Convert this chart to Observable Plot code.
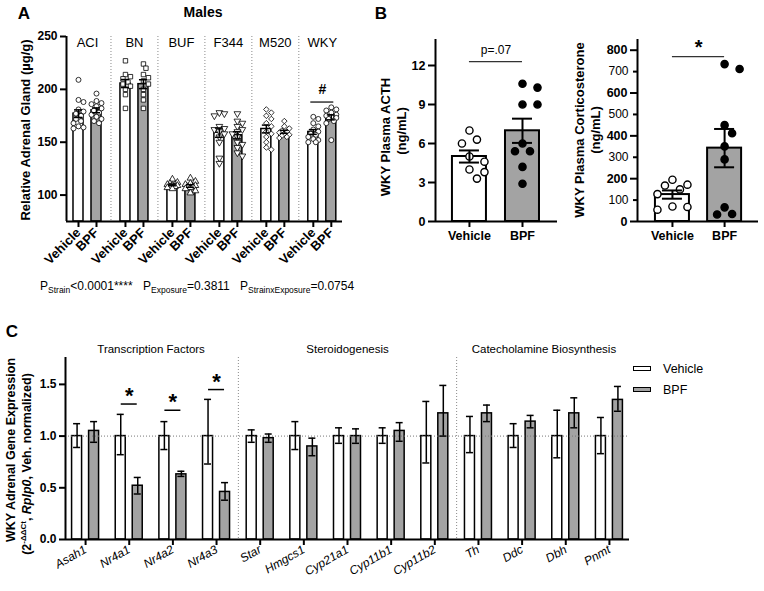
<!DOCTYPE html>
<html><head><meta charset="utf-8">
<script src="https://cdn.jsdelivr.net/npm/d3@7"></script>
<script src="https://cdn.jsdelivr.net/npm/@observablehq/plot@0.6"></script>
<style>
body{margin:0;background:#fff;font-family:"Liberation Sans",Arial,Helvetica,sans-serif;}
#fig{position:relative;width:764px;height:591px;overflow:hidden;background:#fff;color:#000;}
#fig svg{overflow:visible;}
</style></head><body><div id="fig"></div>
<script>
// ---------------- DATA ----------------
const strains = ["ACI", "BN", "BUF", "F344", "M520", "WKY"];
const conditions = ["Vehicle", "BPF"];
// Panel A: relative adrenal gland (µg/g), individual animals
const aciVehicle = [209, 190, 188, 181, 179, 177, 175, 172, 170, 168, 165, 164, 163];
const aciBPF = [196, 189, 187, 186, 184, 182, 180, 178, 176, 174, 172, 170, 168];
const bnVehicle = [227, 214, 212, 210, 207, 205, 203, 200, 195, 182];
const bnBPF = [224, 220, 214, 211, 208, 205, 200, 195, 190, 182];
const bufVehicle = [115, 112, 111, 110, 110, 109, 109, 108, 108, 107, 106];
const bufBPF = [116, 113, 111, 110, 109, 108, 108, 107, 106, 104, 102];
const f344Vehicle = [178, 177, 175, 165, 163, 162, 160, 158, 155, 150, 135, 130];
const f344BPF = [177, 170, 168, 165, 162, 160, 158, 155, 150, 148, 145, 140, 137];
const m520Vehicle = [181, 178, 175, 172, 168, 165, 160, 158, 155, 150, 145, 143];
const m520BPF = [170, 165, 163, 161, 160, 159, 158, 157, 156, 155, 154];
const wkyVehicle = [174, 172, 168, 165, 162, 160, 158, 157, 155, 153, 152, 150, 150];
const wkyBPF = [183, 181, 180, 178, 176, 175, 174, 173, 172, 170, 168, 152];
const adrenalTicks = [100, 150, 200, 250];
const pValuesA = [["Strain", "<0.0001****"], ["Exposure", "=0.3811"], ["StrainxExposure", "=0.0754"]];
// Panel B
const acthVehicle = [7.0, 6.3, 6.0, 5.0, 4.6, 4.0, 3.8, 3.3];
const acthBPF = [10.6, 10.3, 9.0, 9.0, 6.0, 5.4, 5.4, 4.2, 2.9];
const acthTicks = [0, 3, 6, 9, 12];
const cortVehicle = [195, 172, 168, 150, 128, 70, 68, 55];
const cortBPF = [735, 712, 450, 412, 351, 290, 66, 33, 35];
const cortTicks = [0, 200, 400, 600, 800];
const cortMinorTicks = [100, 300, 500, 700];
// Panel C: gene expression (mean, SEM lower, SEM upper)
const genes = ["Asah1", "Nr4a1", "Nr4a2", "Nr4a3", "Star", "Hmgcs1", "Cyp21a1", "Cyp11b1", "Cyp11b2", "Th", "Ddc", "Dbh", "Pnmt"];
const geneGroups = ["Transcription Factors", "Steroidogenesis", "Catecholamine Biosynthesis"];
const geneGroupSizes = [4, 5, 4];
const vehMean = [1, 1, 1, 1, 1, 1, 1, 1, 1, 1, 1, 1, 1];
const vehLo = [0.89, 0.82, 0.87, 0.73, 0.94, 0.87, 0.93, 0.93, 0.74, 0.84, 0.89, 0.79, 0.83];
const vehHi = [1.12, 1.21, 1.14, 1.355, 1.06, 1.14, 1.08, 1.08, 1.335, 1.19, 1.12, 1.25, 1.18];
const bpfMean = [1.05, 0.52, 0.63, 0.46, 0.98, 0.90, 1.00, 1.05, 1.22, 1.22, 1.14, 1.22, 1.35];
const bpfLo = [0.94, 0.44, 0.61, 0.38, 0.94, 0.81, 0.93, 0.95, 1.00, 1.14, 1.08, 1.08, 1.24];
const bpfHi = [1.14, 0.60, 0.66, 0.55, 1.02, 0.98, 1.07, 1.13, 1.49, 1.30, 1.20, 1.37, 1.48];
const sigGenes = ["Nr4a1", "Nr4a2", "Nr4a3"];
const sigLevels = [1.31, 1.25, 1.45];
const geneTicks = [0, 0.5, 1.0, 1.5];

// ---------------- HELPERS ----------------
const FONT = '"Liberation Sans", Arial, Helvetica, sans-serif';
const fig = document.getElementById("fig");
const GRAY = "#a3a3a3";
const DOT = "#8a8a8a";
function place(el, left, top) {
  el.style.position = "absolute"; el.style.left = left + "px"; el.style.top = top + "px";
  fig.appendChild(el);
}
function addText(html, x, y, o = {}) {
  const d = document.createElement("div");
  d.innerHTML = html;
  const tx = o.anchor === "start" ? "0" : o.anchor === "end" ? "-100%" : "-50%";
  d.style.cssText = `position:absolute;left:${x}px;top:${y}px;white-space:nowrap;line-height:1;color:#000;` +
    `font-size:${o.size || 12}px;font-weight:${o.weight || "bold"};` +
    `transform:translate(${tx},-50%) rotate(${o.rotate || 0}deg);${o.style || ""}`;
  fig.appendChild(d);
}
function swarm(values, r, pxY, pxX, step, maxPx) {
  const order = values.map((_, i) => i).sort((a, b) => values[b] - values[a]);
  const placed = [], off = new Array(values.length).fill(0);
  for (const i of order) {
    const y = values[i] * pxY;
    let best = 0, bestD = -1;
    for (let k = 0; k < 40; k++) {
      const c = (k % 2 ? 1 : -1) * Math.ceil(k / 2) * step;
      if (Math.abs(c) > maxPx) break;
      const dmin = placed.length ? Math.min(...placed.map(p => Math.hypot(p.x - c, p.y - y))) : Infinity;
      if (dmin >= 2 * r) { best = c; bestD = dmin; break; }
      if (dmin > bestD) { bestD = dmin; best = c; }
    }
    placed.push({x: best, y}); off[i] = best / pxX;
  }
  return off;
}
const mean = a => d3.mean(a);
const sem = a => d3.deviation(a) / Math.sqrt(a.length);
const triangleDown = {
  draw(ctx, size) {
    const s3 = Math.sqrt(3), y = -Math.sqrt(size / (s3 * 3));
    ctx.moveTo(0, -y * 2); ctx.lineTo(-s3 * y, y); ctx.lineTo(s3 * y, y); ctx.closePath();
  }
};
const axisText = {fill: "black", stroke: "black", strokeWidth: 2};

// ---------------- PANEL A ----------------
{
  const values = {ACI: [aciVehicle, aciBPF], BN: [bnVehicle, bnBPF], BUF: [bufVehicle, bufBPF],
    F344: [f344Vehicle, f344BPF], M520: [m520Vehicle, m520BPF], WKY: [wkyVehicle, wkyBPF]};
  const W = 360, H = 280, m = {l: 66, r: 18, t: 36, b: 59};
  const xDom = [-0.447, strains.length - 1 + 0.43], yDom = [75, 250];
  const pxX = (W - m.l - m.r) / (xDom[1] - xDom[0]);
  const pxY = (H - m.t - m.b) / (yDom[1] - yDom[0]);
  const pair = 9 / pxX, bw = 5 / pxX, cap = 4 / pxX;
  const bars = [], pts = [];
  strains.forEach((s, gi) => conditions.forEach((c, ci) => {
    const v = values[s][ci];
    const x = gi + (ci === 0 ? -pair : pair);
    const mu = mean(v), se = sem(v);
    bars.push({strain: s, cond: c, x, mean: mu, lo: mu - se, hi: mu + se});
    const off = swarm(v, 2.4, pxY, pxX, 2.5, 6);
    v.forEach((val, i) => pts.push({strain: s, x: x + off[i], v: val}));
  }));
  const tickMap = new Map(bars.map(b => [b.x, b.cond]));
  const plot = Plot.plot({
    width: W, height: H, marginLeft: m.l, marginRight: m.r, marginTop: m.t, marginBottom: m.b,
    x: {type: "linear", domain: xDom},
    y: {domain: yDom},
    symbol: {domain: strains, range: ["circle", "square", "triangle", triangleDown, "diamond2", "circle"]},
    style: {fontFamily: FONT, fontSize: "12px", color: "black", background: "transparent"},
    marks: [
      Plot.ruleX(d3.range(strains.length - 1).map(i => i + 0.5), {stroke: DOT, strokeDasharray: "1,2", strokeWidth: 1}),
      Plot.rectY(bars, {x1: d => d.x - bw, x2: d => d.x + bw, y1: () => yDom[0], y2: "mean",
        fill: d => d.cond === "BPF" ? GRAY : "white", stroke: "black", strokeWidth: 1.5}),
      Plot.dot(pts, {x: "x", y: "v", symbol: "strain", r: 2.5, fill: "white", stroke: "black", strokeWidth: 0.8}),
      Plot.ruleX(bars, {x: "x", y1: "lo", y2: "hi", stroke: "black", strokeWidth: 1.5}),
      Plot.ruleY(bars, {y: "hi", x1: d => d.x - cap, x2: d => d.x + cap, stroke: "black", strokeWidth: 1.5}),
      Plot.ruleY(bars, {y: "lo", x1: d => d.x - cap, x2: d => d.x + cap, stroke: "black", strokeWidth: 1.5}),
      Plot.text(strains, {x: (d, i) => i, y: () => yDom[1], dy: 6, text: d => d, fontSize: 13, fontWeight: "normal", fill: "black", lineAnchor: "middle"}),
      Plot.ruleY([188], {x1: 5 - 0.245, x2: 5 + 0.245, stroke: "black", strokeWidth: 1.2}),
      Plot.text(["#"], {x: 5, y: 188, dy: -13, fontSize: 14, fontWeight: "bold", fill: "black", lineAnchor: "middle"}),
      Plot.ruleX([xDom[0]], {stroke: "black", strokeWidth: 2}),
      Plot.ruleY([yDom[0]], {stroke: "black", strokeWidth: 2}),
      Plot.axisY({ticks: adrenalTicks, tickSize: 6, tickPadding: 3, ...axisText, fontWeight: "bold", fontSize: 12, label: null}),
      Plot.axisX({ticks: bars.map(b => b.x), tickFormat: d => tickMap.get(d), tickRotate: -45, tickSize: 6,
        tickPadding: 3, ...axisText, fontWeight: "bold", fontSize: 13, label: null})
    ]
  });
  place(plot, 0, 0);
  addText("A", 24, 13, {size: 17});
  addText("Males", 203, 12, {size: 14});
  addText("Relative Adrenal Gland (µg/g)", 25, 130, {size: 13, rotate: -90});
  const pX = [40, 143, 240];
  pValuesA.forEach(([k, v], i) => addText(`P<sub style="font-size:8.5px;vertical-align:-3px">${k}</sub>${v}`, pX[i], 287,
    {size: 12, weight: "normal", anchor: "start"}));
}

// ---------------- PANEL B ----------------
function panelB({vals, left, W, ml, mr, xDom, yDom, ticks, minor, sig}) {
  const H = 280, mt = 39, mb = 59;
  const pxX = (W - ml - mr) / (xDom[1] - xDom[0]);
  const pxY = (H - mt - mb) / (yDom[1] - yDom[0]);
  const bw = 17 / pxX, cap = 10 / pxX;
  const bars = [], pts = [];
  conditions.forEach((c, ci) => {
    const v = vals[ci], mu = mean(v), se = sem(v);
    bars.push({cond: c, x: ci, mean: mu, lo: mu - se, hi: mu + se});
    const off = swarm(v, 4.6, pxY, pxX, 7.5, 15);
    v.forEach((val, i) => pts.push({cond: c, x: ci + off[i], v: val}));
  });
  const marks = [
    Plot.rectY(bars, {x1: d => d.x - bw, x2: d => d.x + bw, y1: () => 0, y2: "mean",
      fill: d => d.cond === "BPF" ? GRAY : "white", stroke: "black", strokeWidth: 2}),
    Plot.dot(pts, {x: "x", y: "v", r: 3.6, fill: d => d.cond === "BPF" ? "black" : "white", stroke: "black", strokeWidth: 1.4}),
    Plot.ruleX(bars, {x: "x", y1: "lo", y2: "hi", stroke: "black", strokeWidth: 2}),
    Plot.ruleY(bars, {y: "hi", x1: d => d.x - cap, x2: d => d.x + cap, stroke: "black", strokeWidth: 2}),
    Plot.ruleY(bars, {y: "lo", x1: d => d.x - cap, x2: d => d.x + cap, stroke: "black", strokeWidth: 2}),
    Plot.ruleY([sig.y], {x1: 0, x2: 1, stroke: "#333", strokeWidth: 1.3}),
    Plot.text([sig.text], {x: 0.5, y: sig.y, dy: sig.dy, fontSize: sig.size, fontWeight: sig.weight, fill: "black", lineAnchor: "middle"}),
    Plot.ruleX([xDom[0]], {stroke: "black", strokeWidth: 2}),
    Plot.ruleY([0], {stroke: "black", strokeWidth: 2}),
    Plot.axisY({ticks, tickSize: 7, tickPadding: 3, ...axisText, fontWeight: "bold", fontSize: 12.5, label: null}),
    Plot.axisX({ticks: [0, 1], tickFormat: d => conditions[d], tickSize: 6, tickPadding: 4, ...axisText,
      fontWeight: "bold", fontSize: 12.5, label: null})
  ];
  if (minor) marks.push(Plot.axisY({ticks: minor, tickFormat: null, tickSize: 4, ...axisText, label: null}));
  const plot = Plot.plot({
    width: W, height: H, marginLeft: ml, marginRight: mr, marginTop: mt, marginBottom: mb,
    x: {type: "linear", domain: xDom}, y: {domain: yDom},
    style: {fontFamily: FONT, fontSize: "12px", color: "black", background: "transparent"},
    marks
  });
  place(plot, left, 0);
}
panelB({vals: [acthVehicle, acthBPF], left: 370, W: 200, ml: 65, mr: 13, xDom: [-0.64, 1.66], yDom: [0, 14],
  ticks: acthTicks, sig: {y: 12.3, text: "p=.07", dy: -11, size: 12, weight: "normal"}});
panelB({vals: [cortVehicle, cortBPF], left: 570, W: 194, ml: 67, mr: 6, xDom: [-0.67, 1.65], yDom: [0, 850],
  ticks: cortTicks, minor: cortMinorTicks, sig: {y: 770, text: "*", dy: -9, size: 20, weight: "bold"}});
addText("B", 381, 13, {size: 17});
addText("WKY Plasma ACTH", 385, 137, {size: 13, rotate: -90});
addText("(ng/mL)", 401, 131, {size: 13, rotate: -90});
addText("WKY Plasma Corticosterone", 579, 130, {size: 13, rotate: -90});
addText("(ng/mL)", 595, 130, {size: 13, rotate: -90});

// ---------------- PANEL C ----------------
{
  const W = 764, H = 291, m = {l: 65, r: 135, t: 57, b: 52};
  const xDom = [-0.46, genes.length - 1 + 0.46], yDom = [0, 1.76];
  const pxX = (W - m.l - m.r) / (xDom[1] - xDom[0]);
  const off = 8.5 / pxX, bw = 5 / pxX, cap = 3.5 / pxX, sigW = 8 / pxX;
  const bars = [];
  genes.forEach((g, i) => {
    bars.push({gene: g, cond: "Vehicle", x: i - off, mean: vehMean[i], lo: vehLo[i], hi: vehHi[i]});
    bars.push({gene: g, cond: "BPF", x: i + off, mean: bpfMean[i], lo: bpfLo[i], hi: bpfHi[i]});
  });
  let start = 0; const groups = [], seps = [];
  geneGroups.forEach((name, k) => {
    groups.push({name, x: start + (geneGroupSizes[k] - 1) / 2});
    start += geneGroupSizes[k];
    if (k < geneGroups.length - 1) seps.push(start - 0.5);
  });
  const sig = sigGenes.map((g, k) => ({x: genes.indexOf(g), y: sigLevels[k]}));
  const plot = Plot.plot({
    width: W, height: H, marginLeft: m.l, marginRight: m.r, marginTop: m.t, marginBottom: m.b,
    x: {type: "linear", domain: xDom}, y: {domain: yDom},
    style: {fontFamily: FONT, fontSize: "12px", color: "black", background: "transparent"},
    marks: [
      Plot.ruleX(seps, {stroke: DOT, strokeDasharray: "1,2", strokeWidth: 1}),
      Plot.rectY(bars, {x1: d => d.x - bw, x2: d => d.x + bw, y1: () => 0, y2: "mean",
        fill: d => d.cond === "BPF" ? GRAY : "white", stroke: "black", strokeWidth: 1.5}),
      Plot.ruleY([1], {stroke: "#777", strokeDasharray: "1,2", strokeWidth: 1}),
      Plot.ruleX(bars, {x: "x", y1: "lo", y2: "hi", stroke: "black", strokeWidth: 1.5}),
      Plot.ruleY(bars, {y: "hi", x1: d => d.x - cap, x2: d => d.x + cap, stroke: "black", strokeWidth: 1.5}),
      Plot.ruleY(bars, {y: "lo", x1: d => d.x - cap, x2: d => d.x + cap, stroke: "black", strokeWidth: 1.5}),
      Plot.ruleY(sig, {y: "y", x1: d => d.x - sigW, x2: d => d.x + sigW, stroke: "black", strokeWidth: 1.5}),
      Plot.text(sig, {x: "x", y: "y", text: () => "*", dy: -8, fontSize: 22, fontWeight: "bold", fill: "black", lineAnchor: "middle"}),
      Plot.text(groups, {x: "x", y: () => yDom[1], text: "name", dy: -8, fontSize: 11.5, fontWeight: "normal", fill: "black", lineAnchor: "middle"}),
      Plot.ruleX([xDom[0]], {stroke: "black", strokeWidth: 2}),
      Plot.ruleY([0], {stroke: "black", strokeWidth: 2}),
      Plot.axisY({ticks: geneTicks, tickFormat: d3.format(".1f"), tickSize: 6, tickPadding: 3, ...axisText,
        fontWeight: "bold", fontSize: 12, label: null}),
      Plot.axisX({ticks: d3.range(genes.length), tickFormat: d => genes[d], tickRotate: -30, tickSize: 6,
        tickPadding: 3, ...axisText, fontStyle: "italic", fontWeight: "normal", fontSize: 12, label: null})
    ]
  });
  place(plot, 0, 300);
  // make sure axis label text is filled black without outline
  fig.querySelectorAll("svg text").forEach(t => { t.setAttribute("stroke", "none"); });
  addText("C", 12, 331, {size: 17});
  addText("WKY Adrenal Gene Expression", 11, 450, {size: 12.5, rotate: -90});
  addText('(2<sup style="font-size:8px;vertical-align:5px">-ΔΔCt</sup>, <i>Rplp0</i>, Veh. normalized)', 27, 464, {size: 12.5, rotate: -90});
  // legend
  conditions.forEach((c, i) => {
    const sw = document.createElement("div");
    sw.style.cssText = `width:16px;height:3px;border:1.5px solid #000;background:${c === "BPF" ? GRAY : "#fff"};`;
    place(sw, 633, 366 + i * 21);
    addText(c, 663, 369 + i * 21, {size: 12.5, weight: "normal", anchor: "start"});
  });
}
</script></body></html>
